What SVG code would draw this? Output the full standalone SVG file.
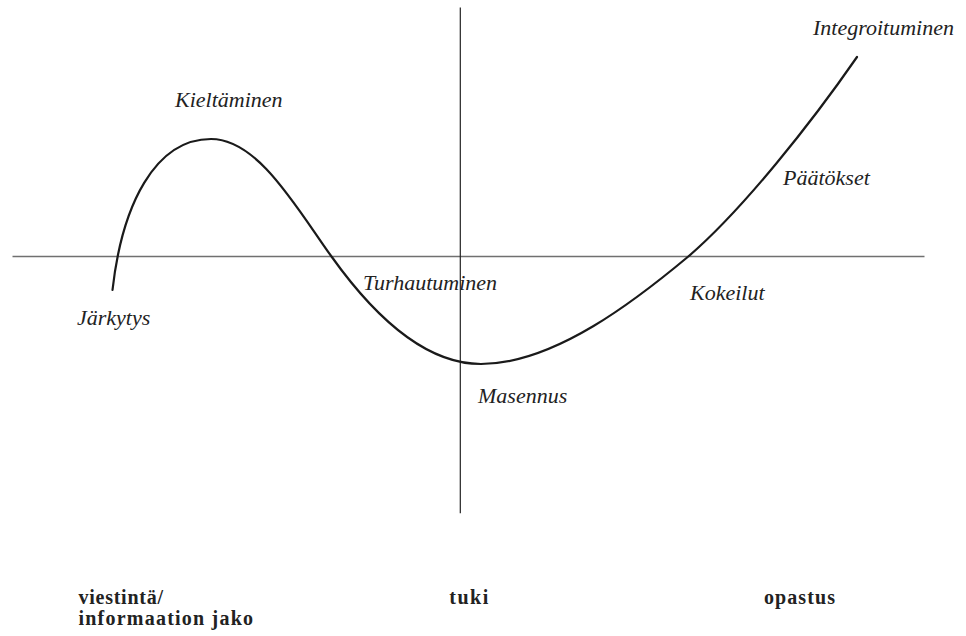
<svg xmlns="http://www.w3.org/2000/svg" width="966" height="636" viewBox="0 0 966 636">
<style>
.axis-h{stroke:#707070;stroke-width:1.3;fill:none}
.axis-v{stroke:#222;stroke-width:1.2;fill:none}
.curve{stroke:#1a1a1a;stroke-width:2.2;fill:none;stroke-linecap:round}
</style>
<rect width="966" height="636" fill="#fff"/>
<g id="connectors">
<line class="axis-h" x1="12.5" y1="256.5" x2="924.5" y2="256.5"/>
<line class="axis-v" x1="460.3" y1="7.5" x2="460.3" y2="513.3"/>
<path id="curve" class="curve" d="M112.5,290 C122,205 155,139 211,139 C258,139 296,207 331.5,256.5 C366.5,305.5 420,364 481,364 C555,364 638,298.5 688.3,256.5 C743,209.5 812,122 857,57"/>
</g>
<g id="n-jarkytys"><text x="77" y="325" font-family="Liberation Serif" font-size="22" font-style="italic" fill="#222">Järkytys</text></g>
<g id="n-kieltaminen"><text x="175" y="107" font-family="Liberation Serif" font-size="22" font-style="italic" fill="#222">Kieltäminen</text></g>
<g id="n-turhautuminen"><text x="363" y="290" font-family="Liberation Serif" font-size="22" font-style="italic" fill="#222">Turhautuminen</text></g>
<g id="n-masennus"><text x="478" y="403" font-family="Liberation Serif" font-size="22" font-style="italic" fill="#222">Masennus</text></g>
<g id="n-kokeilut"><text x="690" y="300" font-family="Liberation Serif" font-size="22" font-style="italic" fill="#222">Kokeilut</text></g>
<g id="n-paatokset"><text x="783" y="185" font-family="Liberation Serif" font-size="22" font-style="italic" fill="#222">Päätökset</text></g>
<g id="n-integroituminen"><text x="813" y="35" font-family="Liberation Serif" font-size="22" font-style="italic" fill="#222">Integroituminen</text></g>
<g id="n-viestinta"><text x="78.5" y="604" font-family="Liberation Serif" font-size="20" font-weight="bold" fill="#222" textLength="84.5" lengthAdjust="spacing">viestintä/</text><text x="78.5" y="625" font-family="Liberation Serif" font-size="20" font-weight="bold" fill="#222" textLength="174.5" lengthAdjust="spacing">informaation jako</text></g>
<g id="n-tuki"><text x="449.3" y="604" font-family="Liberation Serif" font-size="20" font-weight="bold" fill="#222" textLength="39" lengthAdjust="spacing">tuki</text></g>
<g id="n-opastus"><text x="764" y="604" font-family="Liberation Serif" font-size="20" font-weight="bold" fill="#222" textLength="71" lengthAdjust="spacing">opastus</text></g>
</svg>
